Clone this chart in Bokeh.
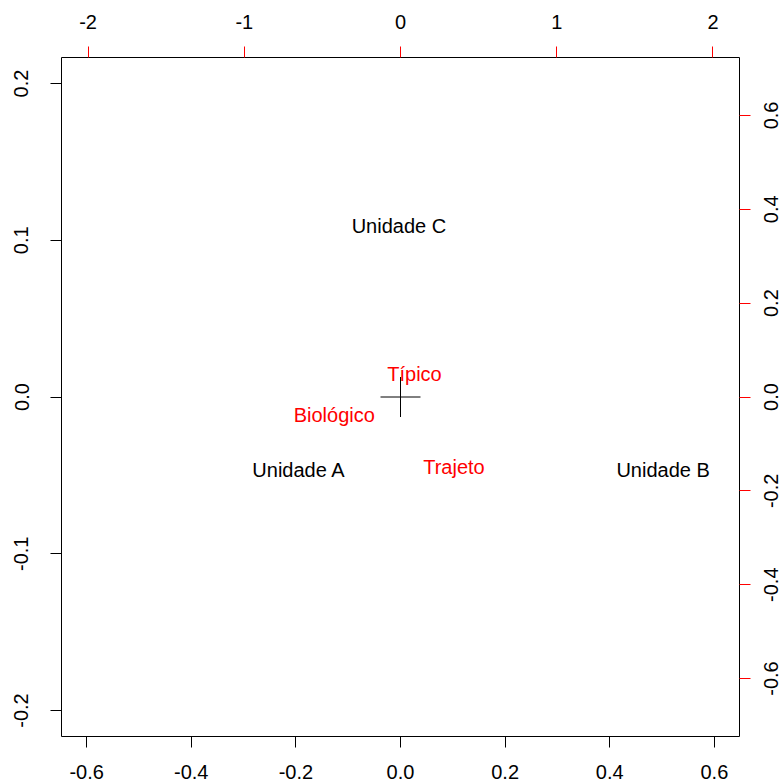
import math
from bokeh.plotting import figure
from bokeh.models import Range1d, LinearAxis, FixedTicker, ColumnDataSource
from bokeh.core.properties import value
from bokeh.embed import file_html
from bokeh.resources import INLINE

# Row points (black, bottom/left scale)
row_labels = ["Unidade A", "Unidade B", "Unidade C"]
row_x = [-0.194, 0.502, -0.003]
row_y = [-0.0466, -0.0466, 0.1094]

# Column points (red, top/right scale)
col_labels = ["Típico", "Biológico", "Trajeto"]
col_x = [0.0896, -0.424, 0.342]
col_y = [0.050, -0.0373, -0.150]

# Origin marker
origin_x = [0.0]
origin_y = [0.0]

# Axis ticks and labels
bottom_ticks = [-0.6, -0.4, -0.2, 0.0, 0.2, 0.4, 0.6]
bottom_labels = ["-0.6", "-0.4", "-0.2", "0.0", "0.2", "0.4", "0.6"]
left_ticks = [-0.2, -0.1, 0.0, 0.1, 0.2]
left_labels = ["-0.2", "-0.1", "0.0", "0.1", "0.2"]
top_ticks = [-2, -1, 0, 1, 2]
top_labels = ["-2", "-1", "0", "1", "2"]
right_ticks = [-0.6, -0.4, -0.2, 0.0, 0.2, 0.4, 0.6]
right_labels = ["-0.6", "-0.4", "-0.2", "0.0", "0.2", "0.4", "0.6"]

FONT = "Liberation Sans"
FS_PX = 20
FS = f"{FS_PX}px"

XR = (-0.648, 0.648)
YR = (-0.2166, 0.2166)
TOP_R = (-2.17, 2.17)
RIGHT_R = (-0.7235, 0.7235)
FW, FH = 678, 679

# Liberation Sans advance widths (em) used to centre the rotated right-hand labels
ADV = {"-": 0.333, ".": 0.278, **{d: 0.556 for d in "0123456789"}}

p = figure(output_backend="svg", toolbar_location=None,
           x_range=Range1d(*XR), y_range=Range1d(*YR),
           frame_width=FW, frame_height=FH,
           min_border_left=61, min_border_top=57, min_border_right=44, min_border_bottom=48,
           x_axis_location=None, y_axis_location=None)
p.grid.visible = False
p.outline_line_color = "black"
p.outline_line_width = 1
p.background_fill_color = "white"
p.border_fill_color = "white"

p.extra_x_ranges = {"top": Range1d(*TOP_R)}
p.extra_y_ranges = {"right": Range1d(*RIGHT_R)}


def style_axis(ax, ticks, labels, color, standoff, orient=None, tick_out=11):
    ax.ticker = FixedTicker(ticks=ticks)
    ax.major_label_overrides = {t: l for t, l in zip(ticks, labels)}
    ax.axis_line_color = None
    ax.major_tick_line_color = color
    ax.major_tick_in = 0
    ax.major_tick_out = tick_out
    ax.minor_tick_line_color = None
    ax.major_label_text_font = FONT
    ax.major_label_text_font_size = FS
    ax.major_label_text_color = "black"
    ax.major_label_standoff = standoff
    if orient is not None:
        ax.major_label_orientation = orient


bottom = LinearAxis()
style_axis(bottom, bottom_ticks, bottom_labels, "black", 17)
p.add_layout(bottom, "below")

left = LinearAxis()
style_axis(left, left_ticks, left_labels, "black", 22, "vertical")
p.add_layout(left, "left")

top = LinearAxis(x_range_name="top")
style_axis(top, top_ticks, top_labels, "red", 18)
p.add_layout(top, "above")

# right side: one axis for the red ticks, one for the labels (rotated, reading bottom-to-top)
right_ticks_axis = LinearAxis(y_range_name="right")
style_axis(right_ticks_axis, right_ticks, ["" for _ in right_ticks], "red", 0)
right_ticks_axis.major_label_text_font_size = "0px"
p.add_layout(right_ticks_axis, "right")

px_per_unit = FH / (RIGHT_R[1] - RIGHT_R[0])
label_pos = [t - 0.5 * FS_PX * sum(ADV[c] for c in l) / px_per_unit
             for t, l in zip(right_ticks, right_labels)]
right_labels_axis = LinearAxis(y_range_name="right")
style_axis(right_labels_axis, label_pos, right_labels, None, 21,
           orient=math.pi / 2, tick_out=0)
p.add_layout(right_labels_axis, "right")

rows = ColumnDataSource(dict(x=row_x, y=row_y, t=row_labels))
cols = ColumnDataSource(dict(x=col_x, y=col_y, t=col_labels))

p.text(x="x", y="y", text="t", source=rows, text_color="black",
       text_font=value(FONT), text_font_size=FS,
       text_align="center", text_baseline="middle")
p.text(x="x", y="y", text="t", source=cols, text_color="#FF0000",
       text_font=value(FONT), text_font_size=FS,
       text_align="center", text_baseline="middle",
       x_range_name="top", y_range_name="right")

p.scatter(x=origin_x, y=origin_y, marker="cross", size=40,
          line_color="black", line_width=1)

open("out.html", "w").write(file_html(p, INLINE))
